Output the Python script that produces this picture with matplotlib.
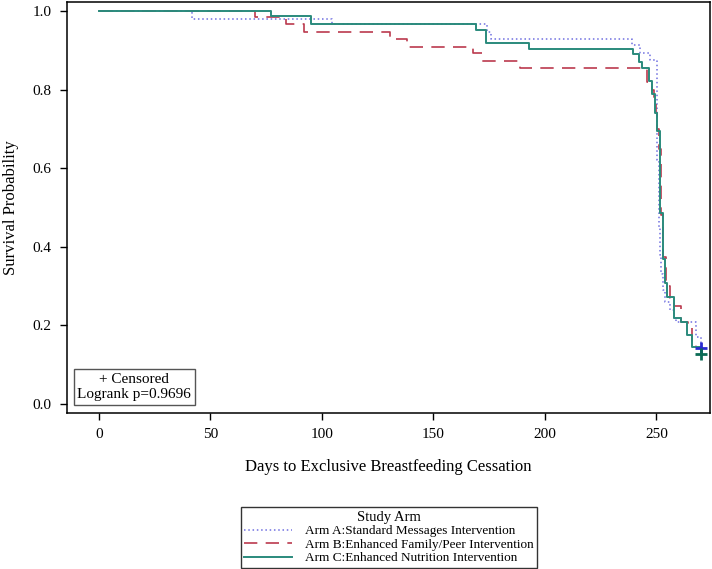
import numpy as np
import matplotlib.pyplot as plt

plt.rcParams['font.family'] = ['Liberation Serif', 'DejaVu Serif']

# Kaplan-Meier step data (days, survival)
arm_a_t = [0, 42, 104.5, 174, 176, 239, 242.6, 247, 250.5, 251, 251.5, 252, 253, 254, 256, 258, 259, 268, 270]
arm_a_s = [1.0, 0.98, 0.967, 0.947, 0.93, 0.913, 0.893, 0.875, 0.62, 0.45, 0.38, 0.33, 0.29, 0.26, 0.24, 0.22, 0.21, 0.17, 0.143]

arm_b_t = [0, 70, 84, 92, 130.5, 138, 168, 172, 189, 246, 248, 249, 250, 250.5, 251, 252, 253,
           254.5, 256, 258, 261, 264, 266, 268]
arm_b_s = [1.0, 0.985, 0.967, 0.946, 0.929, 0.909, 0.893, 0.873, 0.855, 0.82, 0.80, 0.77, 0.74, 0.70,
           0.65, 0.48, 0.375, 0.30, 0.27, 0.25, 0.21, 0.195, 0.16, 0.145]

arm_c_t = [0, 77, 95, 169, 173.5, 193, 239.5, 242, 243.6, 246.6, 248, 249.3, 250.2, 251.6, 252.9,
           254, 255, 258, 261, 263.7, 266, 270]
arm_c_s = [1.0, 0.987, 0.967, 0.952, 0.919, 0.903, 0.89, 0.87, 0.855, 0.822, 0.79, 0.74, 0.695, 0.486,
           0.37, 0.307, 0.272, 0.22, 0.21, 0.175, 0.145, 0.13]

censor_t = [270, 270]
censor_s = [0.143, 0.128]

labels = ['Arm A:Standard Messages Intervention',
          'Arm B:Enhanced Family/Peer Intervention',
          'Arm C:Enhanced Nutrition Intervention']

fig = plt.figure(figsize=(7.12, 5.69), dpi=100)
ax = fig.add_axes([0.094, 0.274, 0.903, 0.7225])

la, = ax.step(arm_a_t, arm_a_s, where='post', color='#6f6fe0', lw=1.1, ls=(0, (1, 1.8)))
lb, = ax.step(arm_b_t, arm_b_s, where='post', color='#bb3a4e', lw=1.2, ls=(0, (8, 5)))
lc, = ax.step(arm_c_t, arm_c_s, where='post', color='#2a8a7c', lw=1.4)

ax.plot(censor_t[0], censor_s[0], marker='+', color='#2a2ad0', ms=8, mew=2)
ax.plot(censor_t[1], censor_s[1], marker='+', color='#0b6b55', ms=8, mew=2)

ax.set_xlim(-14.3, 274)
ax.set_ylim(-0.023, 1.023)
ax.set_xticks([0, 50, 100, 150, 200, 250])
ax.set_yticks([0.0, 0.2, 0.4, 0.6, 0.8, 1.0])
ax.set_yticklabels(['0.0', '0.2', '0.4', '0.6', '0.8', '1.0'])
ax.tick_params(direction='out', length=5, width=1, labelsize=11, pad=6)
for s in ax.spines.values():
    s.set_linewidth(1.1)

ax.set_xlabel('Days to Exclusive Breastfeeding Cessation', fontsize=12, labelpad=13)
ax.set_ylabel('Survival Probability', fontsize=12, labelpad=10)

ax.text(0.105, 0.063, '+ Censored\nLogrank p=0.9696', transform=ax.transAxes,
        ha='center', va='center', fontsize=11, linespacing=1.25,
        bbox=dict(boxstyle='square,pad=0.25', fc='white', ec='#555555', lw=1))

leg = fig.legend([la, lb, lc], labels, title='Study Arm', loc='upper center',
                 bbox_to_anchor=(0.546, 0.12), fontsize=9.5, title_fontsize=10.5,
                 fancybox=False, edgecolor='#333333', framealpha=1,
                 handlelength=3.6, borderpad=0.25, labelspacing=0.1, handletextpad=1.0)
leg.get_frame().set_linewidth(1)

fig.savefig('out.png', dpi=100)
